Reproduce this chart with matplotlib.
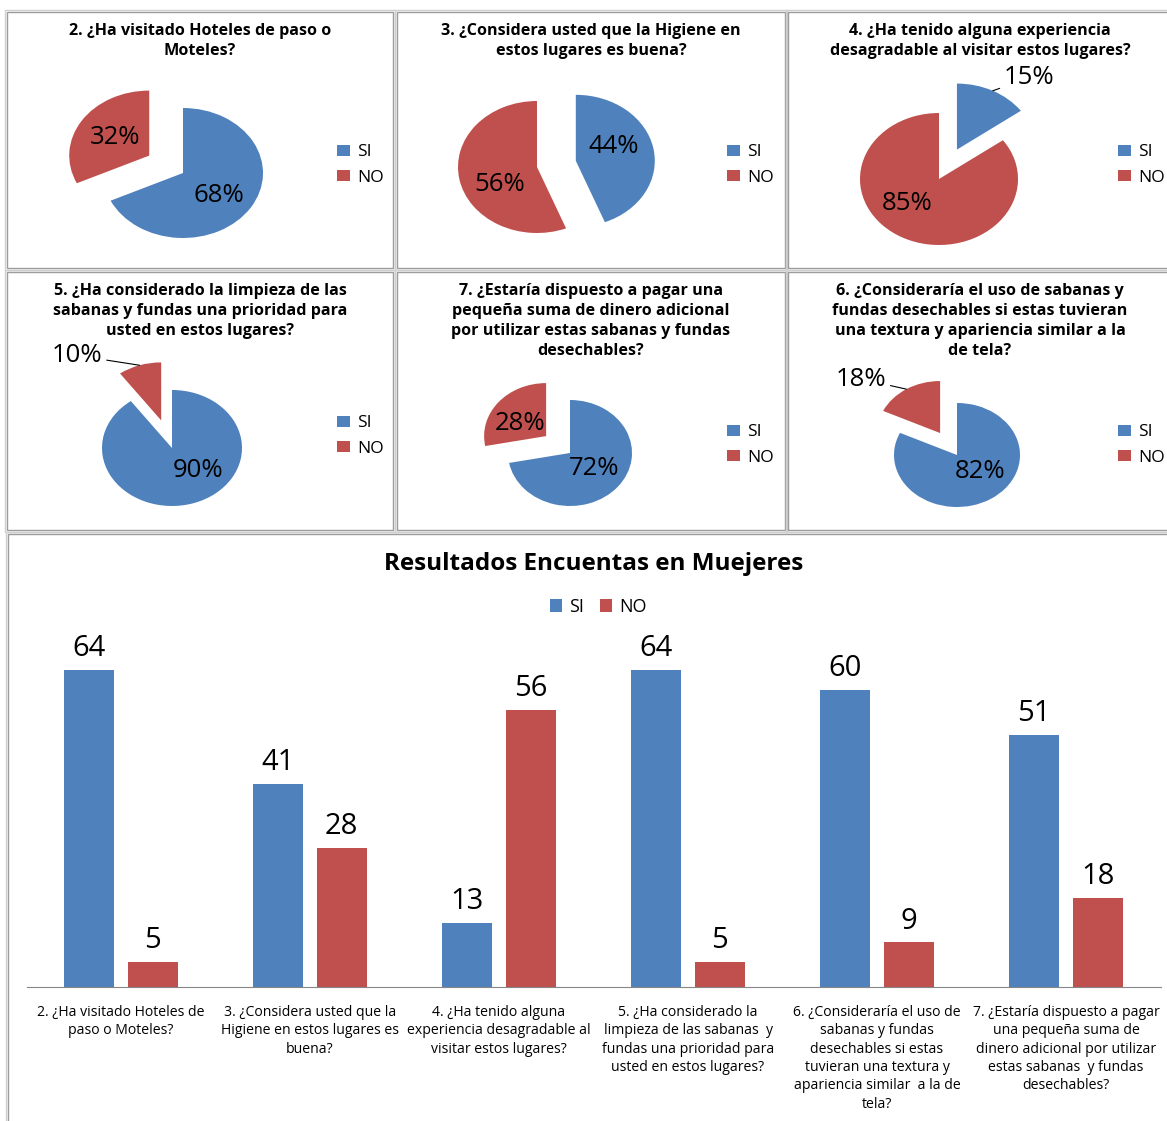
import numpy as np
import matplotlib
matplotlib.use("Agg")
from matplotlib import pyplot as plt
from matplotlib.patches import Rectangle

plt.rcParams['font.family'] = ['Open Sans', 'DejaVu Sans']

W, H = 1167, 1121
BLUE = '#4F81BD'
RED = '#C0504D'

series = ["SI", "NO"]

# survey answers shown as pies (in panel order, left to right, top to bottom)
pie_titles = [
    "2. ¿Ha visitado Hoteles de paso o\nMoteles?",
    "3. ¿Considera usted que la Higiene en\nestos lugares es buena?",
    "4. ¿Ha tenido alguna experiencia\ndesagradable al visitar estos lugares?",
    "5. ¿Ha considerado la limpieza de las\nsabanas y fundas una prioridad para\nusted en estos lugares?",
    "7. ¿Estaría dispuesto a pagar una\npequeña suma de dinero adicional\npor utilizar estas sabanas y fundas\ndesechables?",
    "6. ¿Consideraría el uso de sabanas y\nfundas desechables si estas tuvieran\nuna textura y apariencia similar a la\nde tela?",
]
pie_si = [68, 44, 15, 90, 72, 82]
pie_no = [32, 56, 85, 10, 28, 18]

# answer counts for the bar chart
bar_title = "Resultados Encuentas en Muejeres"
bar_categories = [
    "2. ¿Ha visitado Hoteles de\npaso o Moteles?",
    "3. ¿Considera usted que la\nHigiene en estos lugares es\nbuena?",
    "4. ¿Ha tenido alguna\nexperiencia desagradable al\nvisitar estos lugares?",
    "5. ¿Ha considerado la\nlimpieza de las sabanas  y\nfundas una prioridad para\nusted en estos lugares?",
    "6. ¿Consideraría el uso de\nsabanas y fundas\ndesechables si estas\ntuvieran una textura y\napariencia similar  a la de\ntela?",
    "7. ¿Estaría dispuesto a pagar\nuna pequeña suma de\ndinero adicional por utilizar\nestas sabanas  y fundas\ndesechables?",
]
bar_si = [64, 41, 13, 64, 60, 51]
bar_no = [5, 28, 56, 5, 9, 18]

# pixel layout of each pie panel
panels = [
    dict(box=(7, 12, 393, 268), center=(183, 173), r=(80, 65), explode=(0, 0.5),
         lab=[(0.56, 5), (0.51, 0)], leader=None, legend=(337, 165)),
    dict(box=(397, 12, 785, 268), center=(537, 167), r=(79, 66), explode=(0.5, 0),
         lab=[(0.53, -14), (0.54, -19)], leader=None, legend=(727, 165)),
    dict(box=(788, 12, 1180, 268), center=(939, 179), r=(79, 66), explode=(0.5, 0),
         lab=[(1.42, 13), (0.55, 20)], leader=0, legend=(1118, 165)),
    dict(box=(7, 272, 393, 530), center=(172, 448), r=(70, 58), explode=(0, 0.5),
         lab=[(0.54, -25), (1.64, -29)], leader=1, legend=(337, 436)),
    dict(box=(397, 272, 785, 530), center=(570, 453), r=(62, 53), explode=(0, 0.5),
         lab=[(0.49, -3), (0.48, -11)], leader=None, legend=(727, 445)),
    dict(box=(788, 272, 1180, 530), center=(957, 455), r=(63, 52), explode=(0, 0.5),
         lab=[(0.49, -16), (1.63, -18)], leader=1, legend=(1118, 445)),
]


def fx(x):
    return x / W


def fy(y):
    return 1 - y / H


def frame(fig, x0, y0, x1, y1):
    fig.add_artist(Rectangle((fx(x0 - 2), fy(y1 + 2)), (x1 - x0 + 4) / W, (y1 - y0 + 4) / H,
                             transform=fig.transFigure, fill=False, ec='#cfcfcf', lw=1.0))
    fig.add_artist(Rectangle((fx(x0), fy(y1)), (x1 - x0) / W, (y1 - y0) / H,
                             transform=fig.transFigure, fill=False, ec='#9c9c9c', lw=1.0))


fig = plt.figure(figsize=(W / 100, H / 100), dpi=100)
fig.patch.set_facecolor('white')

L = 2.2
for k, p in enumerate(panels):
    x0, y0, x1, y1 = p['box']
    frame(fig, x0, y0, x1, y1)
    fig.text(fx((x0 + min(x1, 1172)) / 2), fy(y0 + 11), pie_titles[k], ha='center', va='top',
             fontsize=11.6, fontweight='bold', linespacing=1.33)

    cx, cy = p['center']
    rx, ry = p['r']
    ax = fig.add_axes([fx(cx - L * rx), fy(cy + L * ry), 2 * L * rx / W, 2 * L * ry / H])
    vals = [pie_si[k], pie_no[k]]
    wedges, _ = ax.pie(vals, colors=[BLUE, RED], startangle=90, counterclock=False,
                       explode=p['explode'], wedgeprops=dict(linewidth=0))
    ax.set_aspect('auto')
    ax.set_xlim(-L, L)
    ax.set_ylim(-L, L)
    ax.axis('off')

    total = float(sum(vals))
    cum = 0.0
    for i, v in enumerate(vals):
        mid = np.radians(360 * (cum + v / 2) / total)
        cum += v
        ex = p['explode'][i]
        ec = np.array([ex * np.sin(mid), ex * np.cos(mid)])
        rr, dt = p['lab'][i]
        a = mid + np.radians(dt)
        pos = ec + rr * np.array([np.sin(a), np.cos(a)])
        txt = f"{v}%"
        if p['leader'] == i:
            edge = ec + np.array([np.sin(mid), np.cos(mid)])
            ax.annotate(txt, xy=edge, xytext=pos, ha='center', va='center', fontsize=18.5,
                        annotation_clip=False,
                        arrowprops=dict(arrowstyle='-', color='black', lw=0.8,
                                        shrinkA=1, shrinkB=0))
        else:
            ax.text(pos[0], pos[1], txt, ha='center', va='center', fontsize=18.5, clip_on=False)

    lx, ly = p['legend']
    ax.legend(wedges, series, loc='center left', bbox_to_anchor=(fx(lx), fy(ly)),
              bbox_transform=fig.transFigure, frameon=False, fontsize=12.5, borderpad=0,
              borderaxespad=0, handlelength=0.75, handleheight=0.6, handletextpad=0.4,
              labelspacing=0.55)

# bar chart panel
frame(fig, 8, 534, 1180, 1135)
fig.text(fx(594), fy(564), bar_title, ha='center', va='center', fontsize=17.5, fontweight='bold')

bx = fig.add_axes([fx(26.5), fy(987), (1160.5 - 26.5) / W, (987 - 640.5) / H])
x = np.arange(len(bar_categories))
b1 = bx.bar(x - 0.168, bar_si, 0.265, color=BLUE, label=series[0])
b2 = bx.bar(x + 0.168, bar_no, 0.265, color=RED, label=series[1])
bx.bar_label(b1, padding=5, fontsize=21)
bx.bar_label(b2, padding=5, fontsize=21)
bx.set_xlim(-0.5, len(bar_categories) - 0.5)
bx.set_ylim(0, 70)
for s in ['left', 'right', 'top']:
    bx.spines[s].set_visible(False)
bx.spines['bottom'].set_color('#868686')
bx.set_yticks([])
bx.set_xticks(x, bar_categories, fontsize=10.1, linespacing=1.3)
bx.tick_params(axis='x', length=0, pad=13)
bx.legend(ncol=2, loc='center', bbox_to_anchor=(fx(598), fy(607)), bbox_transform=fig.transFigure,
          frameon=False, fontsize=13, borderpad=0, borderaxespad=0, handlelength=0.7,
          handleheight=0.7, handletextpad=0.35, columnspacing=0.9)

fig.savefig("out.png", dpi=100)
